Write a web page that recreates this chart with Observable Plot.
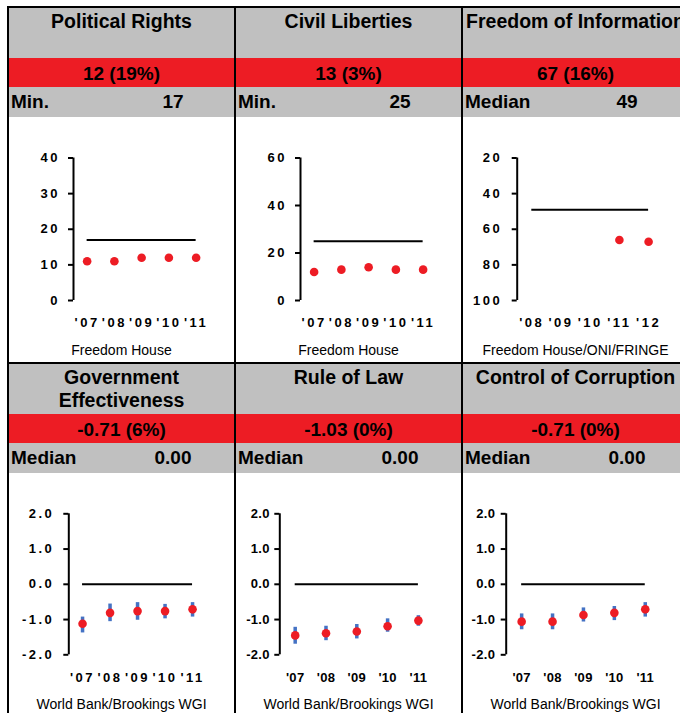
<!DOCTYPE html>
<html><head><meta charset="utf-8">
<script src="https://cdn.jsdelivr.net/npm/d3@7"></script>
<script src="https://cdn.jsdelivr.net/npm/@observablehq/plot@0.6"></script>
<style>
html,body{margin:0;padding:0;background:#fff;}
body{width:680px;height:713px;overflow:hidden;position:relative;font-family:"Liberation Sans",Arial,sans-serif;color:#000;}
.abs{position:absolute;box-sizing:border-box;}
.hdr{background:#c0c0c0;text-align:center;font-weight:bold;font-size:19.5px;line-height:23px;padding-top:2px;white-space:normal;}
.red{background:#ed1c24;text-align:center;font-weight:bold;font-size:19px;line-height:29px;padding-top:1px;white-space:nowrap;}
.bench{background:#c0c0c0;font-weight:bold;font-size:19px;white-space:nowrap;}
.src{font-size:14px;line-height:16px;text-align:center;white-space:nowrap;}
.line{background:#000;}
</style></head><body>
<script>
// ---------- data ----------
const panelTitles = ["Political Rights", "Civil Liberties", "Freedom of Information",
  "Government Effectiveness", "Rule of Law", "Control of Corruption"];
const headlineValues = ["12 (19%)", "13 (3%)", "67 (16%)", "-0.71 (6%)", "-1.03 (0%)", "-0.71 (0%)"];
const benchLabels = ["Min.", "Min.", "Median", "Median", "Median", "Median"];
const benchValues = [17, 25, 49, 0, 0, 0];
const benchTexts = ["17", "25", "49", "0.00", "0.00", "0.00"];
const sources = ["Freedom House", "Freedom House", "Freedom House/ONI/FRINGE",
  "World Bank/Brookings WGI", "World Bank/Brookings WGI", "World Bank/Brookings WGI"];

const years07 = [2007, 2008, 2009, 2010, 2011];
const years08 = [2008, 2009, 2010, 2011, 2012];

const politicalRights = [11, 11, 12, 12, 12];
const civilLiberties = [12, 13, 14, 13, 13];
const freedomOfInfo = [null, null, null, 66, 67];

const govEffectiveness = [-1.12, -0.81, -0.76, -0.76, -0.71];
const govEffLow  = [-1.38, -1.06, -1.02, -0.98, -0.93];
const govEffHigh = [-0.93, -0.56, -0.52, -0.57, -0.52];

const ruleOfLaw = [-1.45, -1.39, -1.34, -1.19, -1.03];
const rolLow  = [-1.70, -1.60, -1.55, -1.36, -1.19];
const rolHigh = [-1.22, -1.19, -1.14, -0.98, -0.89];

const controlCorruption = [-1.06, -1.06, -0.87, -0.81, -0.71];
const cocLow  = [-1.29, -1.29, -1.07, -1.03, -0.93];
const cocHigh = [-0.84, -0.84, -0.67, -0.63, -0.52];

const yTicksPR = [0, 10, 20, 30, 40];
const yTicksCL = [0, 20, 40, 60];
const yTicksFOI = [20, 40, 60, 80, 100];
const yTicksWGI = [-2, -1, 0, 1, 2];

// ---------- series assembly ----------
const series = [
  {years: years07, values: politicalRights, ticks: yTicksPR, domain: [0, 40], reverse: false, fmt: d => String(d)},
  {years: years07, values: civilLiberties, ticks: yTicksCL, domain: [0, 60], reverse: false, fmt: d => String(d)},
  {years: years08, values: freedomOfInfo, ticks: yTicksFOI, domain: [20, 100], reverse: true, fmt: d => String(d)},
  {years: years07, values: govEffectiveness, low: govEffLow, high: govEffHigh, ticks: yTicksWGI, domain: [-2, 2], reverse: false, fmt: d => d.toFixed(1)},
  {years: years07, values: ruleOfLaw, low: rolLow, high: rolHigh, ticks: yTicksWGI, domain: [-2, 2], reverse: false, fmt: d => d.toFixed(1)},
  {years: years07, values: controlCorruption, low: cocLow, high: cocHigh, ticks: yTicksWGI, domain: [-2, 2], reverse: false, fmt: d => d.toFixed(1)}
];

// ---------- layout ----------
const colLeft = [9, 236, 463];
const colW = 225;
const rowTop = [8, 364];
const hdrH = 50, redH = 29, benchH = 30;
const chartTop = [117, 472];
const svgH = [220, 218];
const mTop = [40.5, 41.3];
const mBot = [37, 35.7];
const xPad = [17, 18];
const srcTop = [341.5, 695.5];
const panelLayout = [
  {ml: 64,   mr: 24.75, ls: 2.5, yPad: 8.5},
  {ml: 64,   mr: 24.75, ls: 2.5, yPad: 8.5},
  {ml: 53.7, mr: 25.3,  ls: 2.5, yPad: 10},
  {ml: 59.3, mr: 28.2,  ls: 2.5, yPad: 9.5},
  {ml: 43.3, mr: 27.7,  ls: 0.3, yPad: 5},
  {ml: 42.7, mr: 27.8,  ls: 0.3, yPad: 6}
];

function div(cls, left, top, width, height, text) {
  const d = document.createElement("div");
  d.className = "abs " + cls;
  d.style.left = left + "px"; d.style.top = top + "px";
  if (width != null) d.style.width = width + "px";
  if (height != null) d.style.height = height + "px";
  if (text != null) d.textContent = text;
  document.body.appendChild(d);
  return d;
}

series.forEach((s, i) => {
  const col = i % 3, row = Math.floor(i / 3);
  const L = colLeft[col], T = rowTop[row];
  const lay = panelLayout[i];
  div("hdr", L, T, colW, hdrH, panelTitles[i]);
  div("red", L, T + hdrH, colW, redH, headlineValues[i]);
  const b = div("bench", L, T + hdrH + redH, colW, benchH);
  b.style.lineHeight = benchH + "px";
  const lab = document.createElement("span");
  lab.textContent = benchLabels[i];
  lab.style.cssText = "position:absolute;left:2px;top:0;";
  const val = document.createElement("span");
  val.textContent = benchTexts[i];
  val.style.cssText = "position:absolute;left:164px;top:0;transform:translateX(-50%);";
  b.appendChild(lab); b.appendChild(val);

  const data = s.years.map((y, k) => ({year: y, value: s.values[k],
    lo: s.low ? s.low[k] : null, hi: s.high ? s.high[k] : null}));
  const pts = data.filter(d => d.value != null);
  const x0 = s.years[0] - 0.5, x1 = s.years[s.years.length - 1] + 0.5;
  const bench = [{v: benchValues[i], a: s.years[0], b: s.years[s.years.length - 1]}];

  const marks = [
    Plot.axisY({ticks: s.ticks, tickSize: 5, tickPadding: lay.yPad, tickFormat: s.fmt, strokeWidth: 2, fontSize: 13, fontWeight: "bold"}),
    Plot.axisX({ticks: s.years, tickSize: 0, tickPadding: xPad[row], tickFormat: d => "'" + String(d).slice(2), fontSize: 13, fontWeight: "bold"}),
    Plot.ruleX([x0], {stroke: "#000", strokeWidth: 2}),
    Plot.ruleY(bench, {y: "v", x1: "a", x2: "b", stroke: "#000", strokeWidth: 2})
  ];
  if (s.low) marks.push(Plot.ruleX(pts, {x: "year", y1: "lo", y2: "hi", stroke: "#4472c4", strokeWidth: 3.5}));
  marks.push(Plot.dot(pts, {x: "year", y: "value", r: 4.3, fill: "#ed1c24", stroke: "none"}));

  const svg = Plot.plot({
    width: colW, height: svgH[row],
    marginLeft: lay.ml, marginRight: lay.mr, marginTop: mTop[row], marginBottom: mBot[row],
    x: {type: "linear", domain: [x0, x1]},
    y: {type: "linear", domain: s.domain, reverse: s.reverse},
    marks
  });
  svg.setAttribute("font-family", "'Liberation Sans', Arial, sans-serif");
  svg.setAttribute("font-size", "13");
  svg.style.fontWeight = "bold";
  svg.style.letterSpacing = lay.ls + "px";
  svg.style.background = "transparent";
  svg.style.maxWidth = "none";
  svg.style.position = "absolute";
  svg.style.left = L + "px";
  svg.style.top = chartTop[row] + "px";
  document.body.appendChild(svg);

  div("src", L, srcTop[row], colW, null, sources[i]);
});

// borders
div("line", 7, 6, 680, 2);
div("line", 7, 362, 680, 2);
div("line", 7, 6, 2, 713);
div("line", 234, 6, 2, 713);
div("line", 461, 6, 2, 713);
</script></body></html>
